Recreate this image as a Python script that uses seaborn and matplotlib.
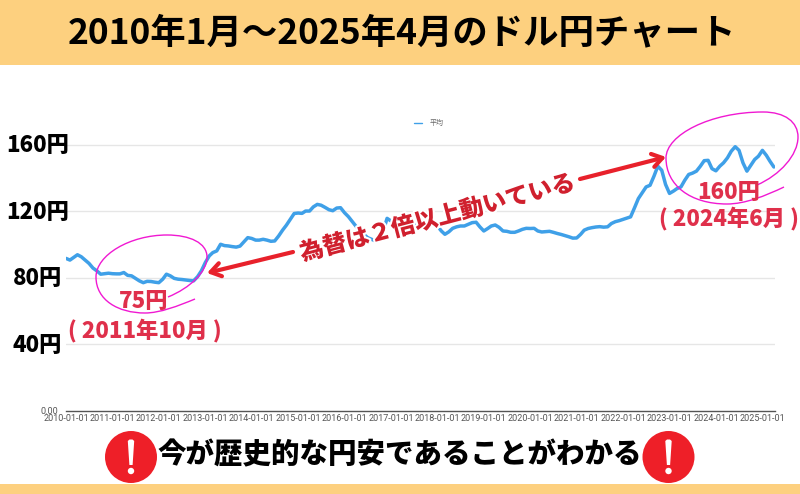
import numpy as np
import pandas as pd
import matplotlib.pyplot as plt
import matplotlib.patheffects as pe
from matplotlib.path import Path
from matplotlib.patches import PathPatch, Rectangle, Circle, Polygon
from matplotlib.transforms import ScaledTranslation
import seaborn as sns

sns.set_theme(style="white")
plt.rcParams['font.family'] = ['Noto Sans CJK JP', 'DejaVu Sans']

# monthly average (one row per year)
rate_2010 = [91.5, 90.5, 92, 93.7, 92.5, 90.5, 88.5, 85.7, 84, 82, 82.3, 82.6]
rate_2011 = [82.3, 82.2, 82.2, 83, 81.3, 81, 79.5, 78, 76.9, 77.7, 77.6, 77.2]
rate_2012 = [76.9, 79, 82, 81, 79.5, 79, 78.8, 78.5, 78.2, 78, 80.5, 84]
rate_2013 = [89, 93, 95, 96, 100, 99.2, 99, 98.6, 98.3, 98.9, 101.5, 104]
rate_2014 = [103.5, 102.5, 102.5, 103, 102.5, 101.8, 102, 105, 108.5, 111.5, 115, 118.5]
rate_2015 = [118.8, 118.6, 120, 120, 122.5, 124, 123.5, 122.2, 120.8, 120.2, 121.8, 122]
rate_2016 = [119, 116.6, 113.8, 110.8, 108.5, 106, 104, 103, 102, 103, 108, 115.6]
rate_2017 = [114, 113, 112.5, 111.5, 111, 111, 111.5, 111.6, 112.5, 112.8, 113.2, 113.5]
rate_2018 = [111, 108, 106, 107.5, 109.6, 110.5, 111, 111, 112, 113, 113.3, 110.5]
rate_2019 = [108, 109.5, 111, 111.6, 110.2, 108, 107.8, 107.2, 107.2, 108, 109, 109.6]
rate_2020 = [109.5, 109.6, 108, 107.4, 107.6, 107.8, 107.2, 106.5, 105.9, 105.2, 104.5, 103.7]
rate_2021 = [103.8, 106, 108.5, 109.5, 110, 110.4, 110.6, 110.3, 110.5, 112.5, 113.6, 114.2]
rate_2022 = [115, 115.8, 116.5, 122, 127.5, 131, 134.5, 135.5, 141, 147, 144.5, 136]
rate_2023 = [130.6, 132, 133.5, 134.5, 138.5, 142, 142.8, 144, 147, 150.3, 150.5, 145.5]
rate_2024 = [144.2, 147, 149, 152, 156, 158.7, 156.5, 149, 144, 147.5, 151, 153]
rate_2025 = [156.5, 153.5, 150, 146.5]

all_rates = (rate_2010 + rate_2011 + rate_2012 + rate_2013 + rate_2014 + rate_2015
             + rate_2016 + rate_2017 + rate_2018 + rate_2019 + rate_2020 + rate_2021
             + rate_2022 + rate_2023 + rate_2024 + rate_2025)
months = pd.date_range("2010-01-01", periods=len(all_rates), freq="MS")

year_ticks = [f"{y}-01-01" for y in range(2010, 2026)]
y_ticks = [40, 80, 120, 160]
y_tick_labels = ["40円", "80円", "120円", "160円"]

TITLE = "2010年1月～2025年4月のドル円チャート"
BOTTOM = "今が歴史的な円安であることがわかる"
MIDDLE = "為替は２倍以上動いている"

BAND = "#FDD07F"
RED = "#EE1F28"
PINK = "#F019D2"
LABEL_RED = "#DF304B"
W, H = 800, 494

df = pd.DataFrame({"date": months, "rate": all_rates})

fig = plt.figure(figsize=(8, 4.94), dpi=100, facecolor="white")

# chart area: x 66-775 px, y 100-410.5 px
ax = fig.add_axes([66 / W, 1 - 410.5 / H, (775 - 66) / W, (410.5 - 100) / H])
sns.lineplot(data=df, x="date", y="rate", ax=ax, color="#3FA0E8", lw=2.5, label="平均")
ax.set_xlim(pd.Timestamp("2010-01-01"), pd.Timestamp("2025-04-10"))
ax.set_ylim(0, 186.8)
ax.set_xlabel("")
ax.set_ylabel("")
for side in ["top", "left", "right"]:
    ax.spines[side].set_visible(False)
ax.spines["bottom"].set_color("#555555")
ax.spines["bottom"].set_linewidth(1)

ax.set_xticks(pd.to_datetime(year_ticks))
ax.set_xticklabels(year_ticks, fontsize=6.5, color="#555555", family="Roboto")
ax.tick_params(axis="x", length=0, pad=2.2)

ax.set_yticks(y_ticks)
ax.set_yticklabels(y_tick_labels, fontsize=16, weight="black", color="black", ha="center")
ax.tick_params(axis="y", length=0, pad=20.5)
# the big yen labels sit a little above their grid lines
for lab in ax.get_yticklabels():
    lab.set_transform(lab.get_transform() + ScaledTranslation(0, 1.5 / 100, fig.dpi_scale_trans))
ax.grid(axis="y", color="#E6E6E6", lw=1)
ax.set_axisbelow(True)
ax.annotate("0.00", (0, 0), xycoords=("axes fraction", "data"), xytext=(-5.8, -1),
            textcoords="offset points", ha="right", va="center", fontsize=6.5,
            color="#555555", family="Roboto")

ax.legend(loc="center", bbox_to_anchor=(428.5 / W, 1 - 123 / H), bbox_transform=fig.transFigure,
          frameon=False, fontsize=5, handlelength=1.2, handletextpad=1.0, labelcolor="#666666")
ax.get_legend().get_lines()[0].set_linewidth(1)

# overlay in pixel coordinates for the hand drawn parts
top = fig.add_axes([0, 0, 1, 1], facecolor="none")
top.set_xlim(0, W)
top.set_ylim(H, 0)
top.axis("off")

top.add_patch(Rectangle((0, 0), W, 65, color=BAND, lw=0))
top.add_patch(Rectangle((0, 484), W, 10, color=BAND, lw=0))
top.text(401.5, 33, TITLE, fontsize=25.5, weight="bold", color="black", ha="center", va="center")
top.text(400, 455, BOTTOM, fontsize=20.5, weight="black", color="black", ha="center", va="center")

# exclamation marks
for cx in [131, 668.5]:
    top.add_patch(Circle((cx, 457), 26, color=RED, lw=0))
    top.add_patch(Polygon([(cx - 3.2, 441), (cx - 1.5, 439.5), (cx + 1.5, 439.5), (cx + 3.2, 441),
                           (cx + 1.6, 465), (cx - 1.6, 465)], color="white", lw=0))
    top.add_patch(Circle((cx, 471), 3.2, color="white", lw=0))


def scribble(pts):
    codes = [Path.MOVETO] + [Path.CURVE4] * (len(pts) - 1)
    top.add_patch(PathPatch(Path(pts, codes), fc="none", ec=PINK, lw=1))


scribble([(195, 299), (178, 306), (160, 313), (145, 313), (118, 313), (96, 300), (96, 277),
          (96, 255), (130, 235), (167, 235), (190, 235), (207, 243), (207, 257),
          (207, 272), (190, 288), (168, 297)])
scribble([(784, 187), (765, 196), (745, 204), (727, 204), (690, 204), (666, 185), (666, 158),
          (666, 135), (710, 112), (763, 112), (785, 112), (798, 122), (798, 137),
          (798, 155), (780, 175), (757, 185)])

for tail, tip in [((293, 252), (207, 273)), ((580, 179), (666, 157))]:
    top.annotate("", xy=tip, xytext=tail,
                 arrowprops=dict(arrowstyle="->,head_length=0.6,head_width=0.4", color="#E8212B",
                                 lw=3, shrinkA=0, shrinkB=0))

halo = [pe.withStroke(linewidth=3, foreground="white")]
top.text(437.5, 218, MIDDLE, fontsize=17, weight="black", color="#D0202E", rotation=14.7,
         rotation_mode="anchor", ha="center", va="center", path_effects=halo)

top.text(143.5, 301, "75円", fontsize=16, weight="black", color=LABEL_RED, ha="center", va="center")
top.text(144.5, 330, "( 2011年10月 )", fontsize=16, weight="black", color=LABEL_RED, ha="center", va="center")
top.text(729, 192, "160円", fontsize=16, weight="black", color=LABEL_RED, ha="center", va="center")
top.text(729, 218, "( 2024年6月 )", fontsize=16, weight="black", color=LABEL_RED, ha="center", va="center")

fig.savefig("out.png", dpi=100)
